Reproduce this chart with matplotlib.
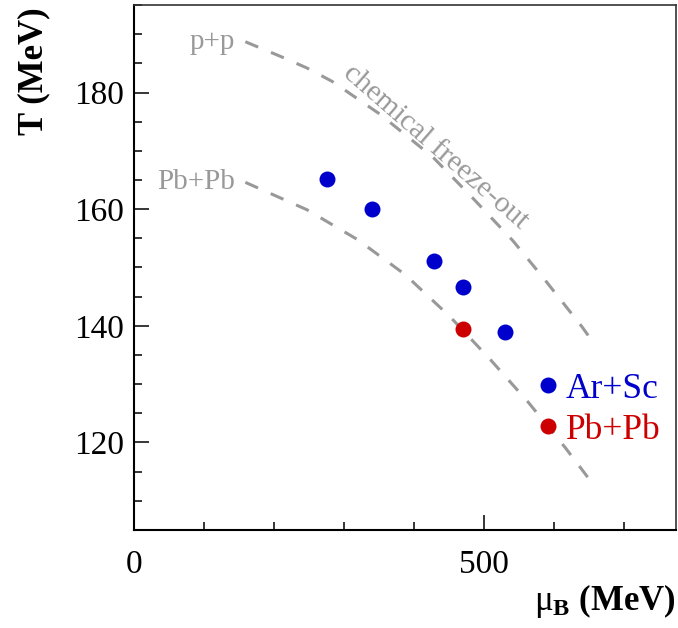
import matplotlib
matplotlib.use("Agg")
import matplotlib.pyplot as plt
from matplotlib.ticker import MultipleLocator, FixedLocator

plt.rcParams['font.family'] = ['Liberation Serif', 'DejaVu Serif']
plt.rcParams['mathtext.fontset'] = 'custom'
plt.rcParams['mathtext.rm'] = 'Liberation Serif'
plt.rcParams['mathtext.bf'] = 'Liberation Serif:bold'
plt.rcParams['mathtext.it'] = 'Liberation Serif:italic'
plt.rcParams['lines.scale_dashes'] = False

# Datos
arsc_mu = [276, 340, 429, 470, 530]
arsc_T = [165.1, 160.1, 151.2, 146.6, 139.0]
pbpb_mu = [470]
pbpb_T = [139.4]

# curvas de freeze-out quimico
pp_curve_mu = [159, 209, 247, 283, 351, 427, 483, 541, 584, 640, 659]
pp_curve_T = [188.7, 186.2, 184.2, 181.9, 176.3, 168.9, 162.0, 154.6, 148.3, 139.8, 136.6]
pbpb_curve_mu = [159, 247, 319, 387, 451, 509, 563, 616, 659]
pbpb_curve_T = [164.6, 159.9, 154.8, 148.8, 141.6, 134.2, 126.9, 119.1, 112.3]

GRAY = '#999999'
BLUE = '#0000cc'
RED = '#cc0000'

fig = plt.figure(figsize=(6.78, 6.28), dpi=100)
ax = fig.add_axes([134 / 678, 1 - 530 / 628, 542 / 678, 525 / 628])

# curvas
for mu, T in [(pp_curve_mu, pp_curve_T), (pbpb_curve_mu, pbpb_curve_T)]:
    ax.plot(mu, T, color=GRAY, lw=2.2, dashes=(10, 10))

ax.annotate('p+p', xy=(pp_curve_mu[0], pp_curve_T[0]), xytext=(-10, 0),
            textcoords='offset pixels', ha='right', va='center',
            color=GRAY, fontsize=21)
ax.annotate('Pb+Pb', xy=(pbpb_curve_mu[0], pbpb_curve_T[0]), xytext=(-10, 0),
            textcoords='offset pixels', ha='right', va='center',
            color=GRAY, fontsize=21)
ax.text(430, 170.6, 'chemical freeze-out', color=GRAY, fontsize=21.5,
        rotation=-41, rotation_mode='anchor', ha='center', va='center')

# puntos
h1, = ax.plot(arsc_mu, arsc_T, 'o', color=BLUE, ms=11.5, mec='none')
h2, = ax.plot(pbpb_mu, pbpb_T, 'o', color=RED, ms=11.5, mec='none')

leg = ax.legend([h1, h2], ['Ar+Sc', 'Pb+Pb'], loc='upper left',
                bbox_to_anchor=(0.744, 0.300), frameon=False, fontsize=25.5,
                handlelength=0.6, handletextpad=0.21, borderpad=0,
                borderaxespad=0, labelspacing=0.23, numpoints=1,
                labelcolor=[BLUE, RED])

ax.set_xlim(0, 774)
ax.set_ylim(105, 195)
ax.xaxis.set_major_locator(FixedLocator([0, 500]))
ax.xaxis.set_minor_locator(MultipleLocator(100))
ax.yaxis.set_major_locator(MultipleLocator(20))
ax.yaxis.set_minor_locator(MultipleLocator(5))
ax.tick_params(which='both', direction='in', top=False, right=False,
               width=1.1, color='black')
ax.tick_params(which='major', length=11, labelsize=24)
ax.tick_params(which='minor', length=5.5)
ax.tick_params(axis='x', pad=14)
ax.tick_params(axis='y', pad=7)

for s in ['left', 'bottom']:
    ax.spines[s].set_linewidth(1.5)
for s in ['top', 'right']:
    ax.spines[s].set_linewidth(1.2)
    ax.spines[s].set_color('#333333')

ax.set_ylabel('T (MeV)', fontsize=25, fontweight='bold', loc='top')
ax.yaxis.set_label_coords(-0.155, 0.995)
ax.set_xlabel(r'$\mathrm{\mu}_{\mathbf{B}}$ $\mathbf{(MeV)}$', fontsize=25,
              loc='right')
ax.xaxis.set_label_coords(1.0, -0.10)

fig.savefig('out.png', dpi=100)
